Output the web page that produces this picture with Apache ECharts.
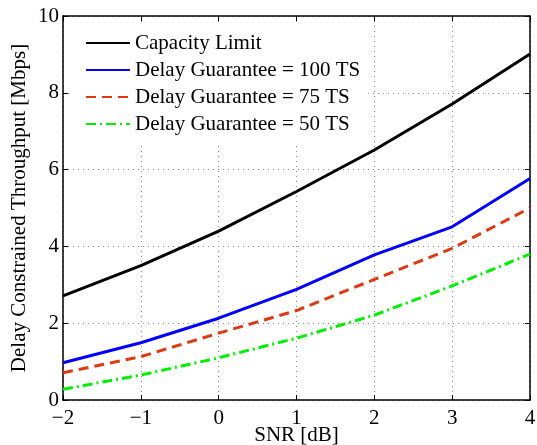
<!DOCTYPE html>
<html>
<head>
<meta charset="utf-8">
<script src="https://cdn.jsdelivr.net/npm/echarts@6/dist/echarts.min.js"></script>
<style>html,body{margin:0;padding:0;background:#fff;}#c{width:537px;height:445px;}</style>
</head>
<body>
<div id="c"></div>
<script>
var snr = [-2, -1, 0, 1, 2, 3, 4];
var capacity = [2.71, 3.50, 4.40, 5.43, 6.51, 7.71, 9.01];
var dg100 = [0.97, 1.49, 2.13, 2.88, 3.78, 4.51, 5.77];
var dg75 = [0.71, 1.13, 1.74, 2.33, 3.14, 3.95, 5.00];
var dg50 = [0.28, 0.65, 1.10, 1.61, 2.21, 2.97, 3.80];
var seriesNames = ['Capacity Limit', 'Delay Guarantee = 100 TS', 'Delay Guarantee = 75 TS', 'Delay Guarantee = 50 TS'];
var xTicks = [-2, -1, 0, 1, 2, 3, 4];
var yTicks = [0, 2, 4, 6, 8, 10];

function pairs(ys) { return snr.map(function (x, i) { return [x, ys[i]]; }); }
function fmt(v) { return v < 0 ? '\u2212' + (-v) : String(v); }

var FONT = 'Liberation Serif';
var chart = echarts.init(document.getElementById('c'), null, { renderer: 'canvas' });
function splitStyle() { return { show: true, lineStyle: { color: '#888', width: 1, type: [1, 4] } }; }
var baseX = { type: 'value', min: -2, max: 4, interval: 1 };
var baseY = { type: 'value', min: 0, max: 10, interval: 2 };
function line() { return { show: true, onZero: false, lineStyle: { color: '#000', width: 1.5 } }; }
function tick() { return { show: true, inside: true, length: 5, lineStyle: { color: '#000' } }; }
chart.setOption({
  animation: false,
  backgroundColor: '#fff',
  grid: { left: 63, right: 7, top: 16, bottom: 45, show: false, containLabel: false, outerBoundsMode: 'none' },
  xAxis: [
    Object.assign({}, baseX, {
      position: 'bottom',
      name: 'SNR [dB]', nameLocation: 'middle', nameGap: 25, nameMoveOverlap: false,
      nameTextStyle: { fontFamily: FONT, fontSize: 21, color: '#000' },
      axisLine: line(), axisTick: tick(),
      axisLabel: { formatter: fmt, fontFamily: FONT, fontSize: 21, color: '#000', margin: 8 },
      splitLine: splitStyle()
    }),
    Object.assign({}, baseX, {
      position: 'top',
      axisLine: line(), axisTick: tick(),
      axisLabel: { show: false },
      splitLine: { show: false }
    })
  ],
  yAxis: [
    Object.assign({}, baseY, {
      position: 'left',
      name: 'Delay Constrained Throughput [Mbps]', nameLocation: 'middle', nameGap: 33, nameMoveOverlap: false,
      nameTextStyle: { fontFamily: FONT, fontSize: 21, color: '#000' },
      axisLine: line(), axisTick: tick(),
      axisLabel: { fontFamily: FONT, fontSize: 21, color: '#000', margin: 4 },
      splitLine: splitStyle()
    }),
    Object.assign({}, baseY, {
      position: 'right',
      axisLine: line(), axisTick: tick(),
      axisLabel: { show: false },
      splitLine: { show: false }
    })
  ],
  legend: {
    orient: 'vertical', left: 72, top: 22,
    padding: [10, 8, 8, 13],
    itemGap: 5, itemWidth: 44, itemHeight: 14,
    backgroundColor: '#fff', borderWidth: 0,
    itemStyle: { opacity: 0 },
    textStyle: { fontFamily: FONT, fontSize: 21, color: '#000', lineHeight: 22 },
    data: seriesNames
  },
  series: [
    { name: seriesNames[0], type: 'line', data: pairs(capacity), symbol: 'none', lineStyle: { color: '#000', width: 3, type: 'solid' }, itemStyle: { color: '#000' }, z: 3 },
    { name: seriesNames[1], type: 'line', data: pairs(dg100), symbol: 'none', lineStyle: { color: '#0000ff', width: 3, type: 'solid' }, itemStyle: { color: '#0000ff' }, z: 3 },
    { name: seriesNames[2], type: 'line', data: pairs(dg75), symbol: 'none', lineStyle: { color: '#de3a12', width: 3, type: [10, 6] }, itemStyle: { color: '#de3a12' }, z: 3 },
    { name: seriesNames[3], type: 'line', data: pairs(dg50), symbol: 'none', lineStyle: { color: '#00ee00', width: 3, type: [10, 4, 2, 4] }, itemStyle: { color: '#00ee00' }, z: 3 }
  ]
});
</script>
</body>
</html>
